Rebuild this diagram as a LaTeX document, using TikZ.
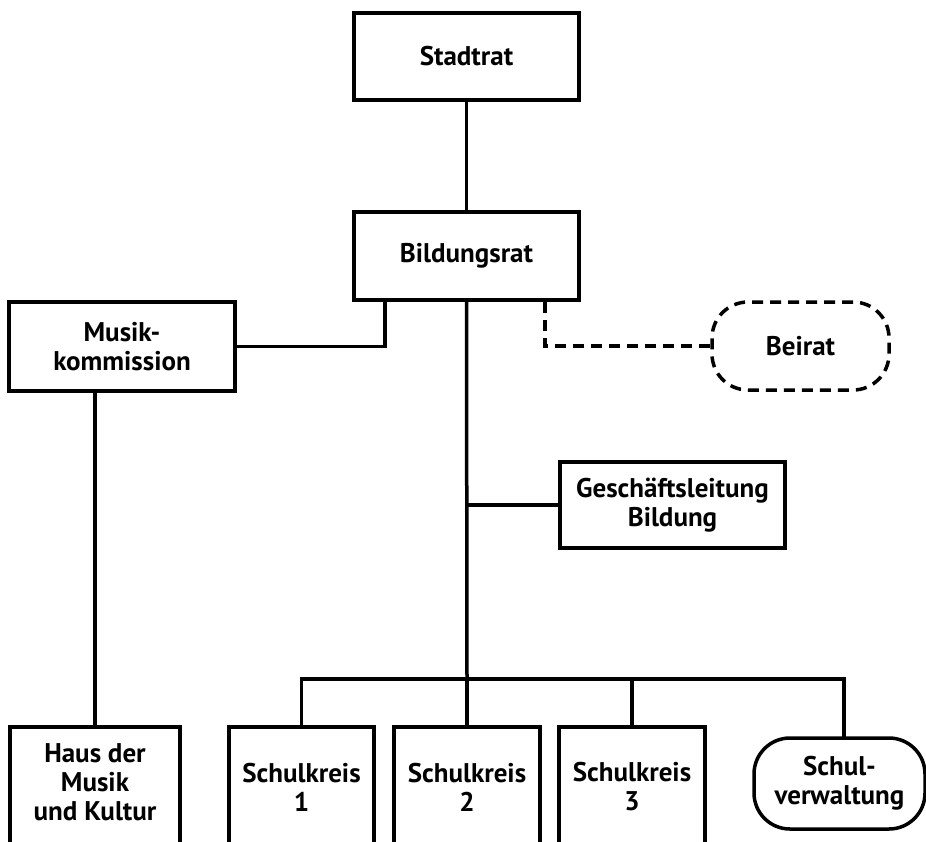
\documentclass[tikz,border=0pt]{standalone}
\usepackage{fontspec}
\setmainfont{PT Sans}
\begin{document}
\begin{tikzpicture}[x=1pt,y=-1pt,
  every node/.style={font=\fontsize{27}{29}\selectfont\bfseries, align=center, inner sep=0pt},
  box/.style={draw, line width=3.5pt, rectangle},
  cutbox/.style={draw, line width=3.5pt, rectangle, anchor=north, minimum height=200pt},
  roundbox/.style={draw, line width=3.5pt, rectangle, rounded corners=36pt},
  conn/.style={line width=3.5pt},
  dconn/.style={line width=3.5pt, dash pattern=on 11pt off 7pt}
]
\useasboundingbox (0,0) rectangle (926,841);
\clip (0,0) rectangle (926,841);

% top
\node[box, minimum width=225pt, minimum height=87pt] (stadt) at (466.5,56.5) {Stadtrat};
\node[box, minimum width=225pt, minimum height=88pt] (bild) at (466.5,256) {Bildungsrat};
\node[box, minimum width=226pt, minimum height=89pt] (musik) at (122,346.5) {Musik-\\kommission};
\node[roundbox, dash pattern=on 11pt off 7pt, minimum width=177pt, minimum height=88pt] (beirat) at (800.5,346) {Beirat};
\node[box, minimum width=225pt, minimum height=86pt] (gesch) at (672.5,505) {Gesch\"aftsleitung\\Bildung};

% bottom row
\node[cutbox, minimum width=170pt] (haus) at (95,725) {};
\node (haustxt) at (95,782) {Haus der\\Musik\\und Kultur};
\node[cutbox, minimum width=145pt] (sk1) at (301.5,725) {};
\node (sk1txt) at (301.5,787) {Schulkreis\\1};
\node[cutbox, minimum width=146pt] (sk2) at (467,725) {};
\node (sk2txt) at (467,787) {Schulkreis\\2};
\node[cutbox, minimum width=146pt] (sk3) at (632,725) {};
\node (sk3txt) at (632,787) {Schulkreis\\3};
\node[roundbox, minimum width=171pt, minimum height=91pt] (sv) at (839.5,783.5) {Schul-\\verwaltung};

% coordinates
\coordinate (kx) at (385,346.5);
\coordinate (bx) at (545,346);
\coordinate (bus) at (467,679);
\coordinate (svtop) at (844,738);

% connectors
\draw[conn] (stadt.south) -- (bild.north);
\draw[conn] (musik.east) -- (kx) -- (kx |- bild.south);
\draw[dconn] (beirat.west) -- (bx) -- (bx |- bild.south);
\draw[conn] (bild.south) -- (bus);
\draw[conn] (gesch.west) -- (gesch.west -| bild.south);
\draw[conn] (haus.north) -- (haus.north |- musik.south);
\draw[conn] (sk1.north) -- (sk1.north |- bus) -- (svtop |- bus) -- (svtop);
\draw[conn] (sk2.north) -- (sk2.north |- bus);
\draw[conn] (sk3.north) -- (sk3.north |- bus);
\end{tikzpicture}
\end{document}
